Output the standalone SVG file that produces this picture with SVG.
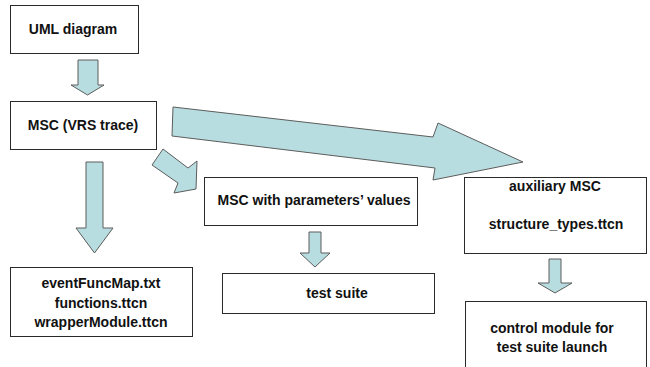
<svg xmlns="http://www.w3.org/2000/svg" width="650" height="367" viewBox="0 0 650 367">
  <style>
    .box { fill: #ffffff; stroke: #2a2a2a; stroke-width: 1; }
    .lbl { font-family: "Liberation Sans", Arial, sans-serif; font-size: 14px; font-weight: bold; fill: #111; text-anchor: middle; }
    .arrow { fill: #b8dde0; stroke: #5c5c5c; stroke-width: 1; stroke-linejoin: miter; }
  </style>
  <rect width="650" height="367" fill="#ffffff"/>

  <!-- block arrows -->
  <g id="connectors">
    <!-- UML diagram -> MSC (VRS trace) -->
    <polygon class="arrow" points="78,60 98,60 98,85 104,85 87.5,95 71,85 78,85"/>
    <!-- MSC (VRS trace) -> generated files -->
    <polygon class="arrow" points="86,162 103,162 103,228 113,228 94.5,253 76,228 86,228"/>
    <!-- MSC (VRS trace) -> MSC with parameters' values -->
    <polygon class="arrow" points="163,149 188,168 197,161 196,189 174,193 178,183 152,165"/>
    <!-- MSC (VRS trace) -> auxiliary MSC -->
    <polygon class="arrow" points="173,107 433,137 438,123 523,162 433,180 435,168 172,136"/>
    <!-- MSC with parameters' values -> test suite -->
    <polygon class="arrow" points="309,232 321,232 321,253 330,253 315,267 300,253 309,253"/>
    <!-- auxiliary MSC -> control module -->
    <polygon class="arrow" points="549,259 561,259 561,283 572,283 555,293 538,283 549,283"/>
  </g>

  <g id="uml">
    <rect class="box" x="10.5" y="5.5" width="128" height="48"/>
    <text class="lbl" x="73" y="34">UML diagram</text>
  </g>

  <g id="msc-trace">
    <rect class="box" x="10.5" y="101.5" width="146" height="48"/>
    <text class="lbl" x="83" y="130">MSC (VRS trace)</text>
  </g>

  <g id="msc-params">
    <rect class="box" x="204.5" y="177.5" width="213" height="48"/>
    <text class="lbl" x="314" y="205">MSC with parameters’ values</text>
  </g>

  <g id="aux-msc">
    <rect class="box" x="464.5" y="177.5" width="182" height="76"/>
    <text class="lbl" x="555" y="191">auxiliary MSC</text>
    <text class="lbl" x="556" y="229">structure_types.ttcn</text>
  </g>

  <g id="generated-files">
    <rect class="box" x="10.5" y="267.5" width="182" height="69"/>
    <text class="lbl" x="101" y="288">eventFuncMap.txt</text>
    <text class="lbl" x="101" y="308">functions.ttcn</text>
    <text class="lbl" x="101" y="327">wrapperModule.ttcn</text>
  </g>

  <g id="test-suite">
    <rect class="box" x="222.5" y="273.5" width="212" height="40"/>
    <text class="lbl" x="337" y="298">test suite</text>
  </g>

  <g id="control-module">
    <rect class="box" x="465.5" y="301.5" width="181" height="80"/>
    <text class="lbl" x="552" y="333">control module for</text>
    <text class="lbl" x="552" y="352">test suite launch</text>
  </g>
</svg>
